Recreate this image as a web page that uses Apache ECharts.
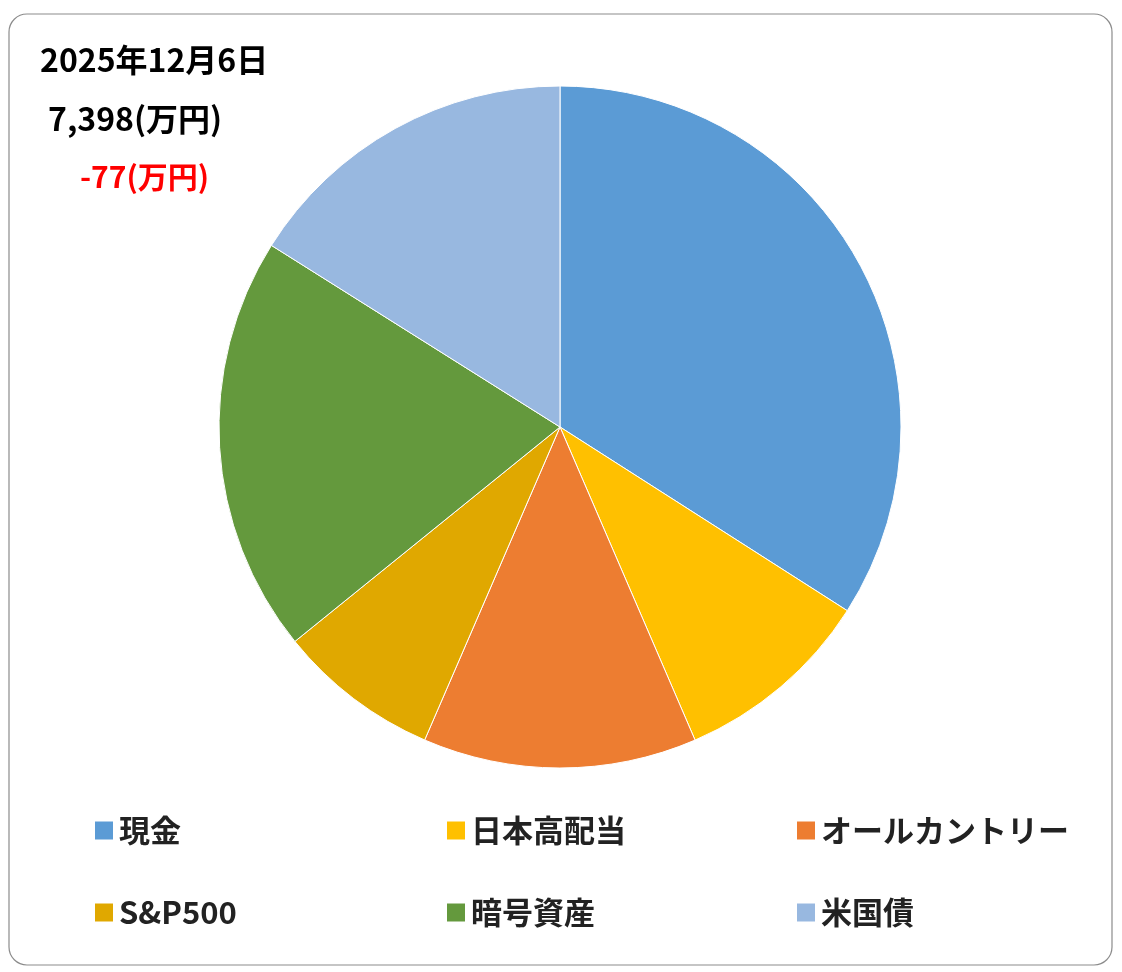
<!DOCTYPE html>
<html><head><meta charset="utf-8">
<script src="https://cdn.jsdelivr.net/npm/echarts@6/dist/echarts.min.js"></script>
<style>html,body{margin:0;padding:0;background:#fff}#c{width:1122px;height:972px}</style>
</head><body><div id="c"></div>
<script>
const categories = ['現金','日本高配当','オールカントリー','S&P500','暗号資産','米国債'];
const values = [2519, 700, 960, 568, 1462, 1188];
const labelTexts = ['2,519(万円)','700(万円)','960(万円)','568(万円)','1462(万円)','1188(万円)'];
const colors = ['#5B9BD5','#FFC000','#ED7D31','#E0A800','#64993D','#98B8E0'];
const titleLines = ['2025年12月6日','7,398(万円)','-77(万円)'];
const FONT = '"Noto Sans CJK JP","Noto Sans",sans-serif';
const data = categories.map((n,i)=>({name:n,value:values[i],itemStyle:{color:colors[i]}}));
const legendPos = [[88,810],[440,810],[790,810],[88,892],[440,892],[790,892]];
const legends = categories.map((n,i)=>({
  data:[n], left:legendPos[i][0], top:legendPos[i][1], orient:'horizontal',
  itemWidth:20, itemHeight:20, itemGap:10, icon:'rect',
  textStyle:{fontFamily:FONT,fontSize:31,fontWeight:'bold',color:'#222'}
}));
const chart = echarts.init(document.getElementById('c'));
chart.setOption({
  animation:false,
  color:colors,
  legend:legends,
  graphic:[
    {type:'rect',shape:{x:9,y:14,width:1103,height:951,r:18},style:{fill:'none',stroke:'#8c8c8c',lineWidth:1.2}},
    {type:'text',left:40,top:44,style:{text:titleLines[0],font:'bold 32px '+FONT,fill:'#000'}},
    {type:'text',left:48,top:103,style:{text:titleLines[1],font:'bold 32px '+FONT,fill:'#000'}},
    {type:'text',left:80,top:162,style:{text:titleLines[2],font:'bold 30px '+FONT,fill:'#FF0000'}}
  ],
  series:[
    {type:'pie',center:[560,427],radius:[0,341],startAngle:90,clockwise:true,data:data,
     label:{show:false},labelLine:{show:false},itemStyle:{borderColor:'#fff',borderWidth:1},silent:true},
    {type:'pie',center:[560,427],radius:[123,341],startAngle:90,clockwise:true,data:data,
     itemStyle:{opacity:0},silent:true,labelLine:{show:false},
     label:{show:true,position:'inside',fontFamily:FONT,fontSize:23,color:'#111',
       formatter:p=>labelTexts[p.dataIndex]}}
  ]
});
</script></body></html>
